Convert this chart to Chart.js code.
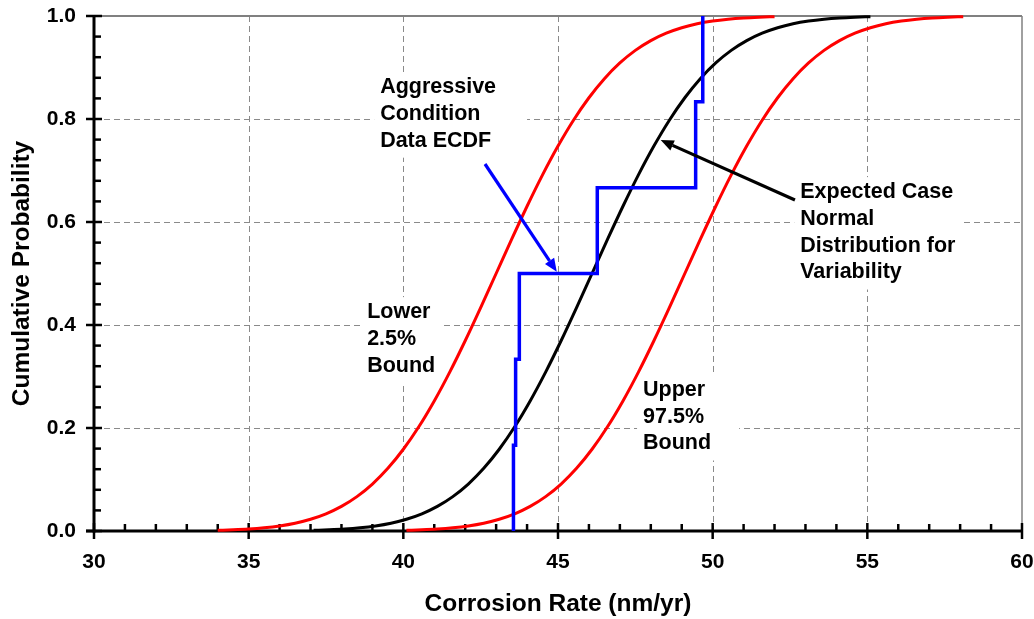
<!DOCTYPE html>
<html><head><meta charset="utf-8">
<script src="https://cdn.jsdelivr.net/npm/chart.js@4.4.0/dist/chart.umd.min.js"></script>
<style>html,body{margin:0;padding:0;background:#fff;}#wrap{width:1034px;height:619px;}</style>
</head><body><div id="wrap"><canvas id="c" width="1034" height="619"></canvas></div>
<script>
// ---- data ----
const xTickValues = [30, 35, 40, 45, 50, 55, 60];
const yTickValues = [0.0, 0.2, 0.4, 0.6, 0.8, 1.0];

const lowerX = [34,34.5,35,35.5,36,36.5,37,37.5,38,38.5,39,39.5,40,40.5,41,41.5,42,42.5,43,43.5,44,44.5,45,45.5,46,46.5,47,47.5,48,48.5,49,49.5,50,50.5,51,51.5,52];
const lowerY = [0.0013,0.0023,0.0038,0.0062,0.0098,0.0151,0.0228,0.0334,0.0478,0.0668,0.0912,0.1217,0.1587,0.2023,0.2525,0.3085,0.3694,0.4338,0.5,0.5662,0.6306,0.6915,0.7475,0.7977,0.8413,0.8783,0.9088,0.9332,0.9522,0.9666,0.9772,0.9849,0.9902,0.9938,0.9962,0.9977,0.9987];

const expectedX = [37.1,37.6,38.1,38.6,39.1,39.6,40.1,40.6,41.1,41.6,42.1,42.6,43.1,43.6,44.1,44.6,45.1,45.6,46.1,46.6,47.1,47.6,48.1,48.6,49.1,49.6,50.1,50.6,51.1,51.6,52.1,52.6,53.1,53.6,54.1,54.6,55.1];
const expectedY = [0.0013,0.0023,0.0038,0.0062,0.0098,0.0151,0.0228,0.0334,0.0478,0.0668,0.0912,0.1217,0.1587,0.2023,0.2525,0.3085,0.3694,0.4338,0.5,0.5662,0.6306,0.6915,0.7475,0.7977,0.8413,0.8783,0.9088,0.9332,0.9522,0.9666,0.9772,0.9849,0.9902,0.9938,0.9962,0.9977,0.9987];

const upperX = [40.1,40.6,41.1,41.6,42.1,42.6,43.1,43.6,44.1,44.6,45.1,45.6,46.1,46.6,47.1,47.6,48.1,48.6,49.1,49.6,50.1,50.6,51.1,51.6,52.1,52.6,53.1,53.6,54.1,54.6,55.1,55.6,56.1,56.6,57.1,57.6,58.1];
const upperY = [0.0013,0.0023,0.0038,0.0062,0.0098,0.0151,0.0228,0.0334,0.0478,0.0668,0.0912,0.1217,0.1587,0.2023,0.2525,0.3085,0.3694,0.4338,0.5,0.5662,0.6306,0.6915,0.7475,0.7977,0.8413,0.8783,0.9088,0.9332,0.9522,0.9666,0.9772,0.9849,0.9902,0.9938,0.9962,0.9977,0.9987];

const ecdfX = [43.56, 43.56, 43.63, 43.75, 46.27, 49.45, 49.68];
const ecdfY = [0, 0.1667, 0.3333, 0.5, 0.6667, 0.8333, 1.0];

// annotations (data coordinates)
const labels = [
  {lines:['Aggressive','Condition','Data ECDF'], x:39.25, y:0.862, extra:25},
  {lines:['Expected Case','Normal','Distribution for','Variability'], x:52.83, y:0.658, extra:0},
  {lines:['Lower','2.5%','Bound'], x:38.83, y:0.425, extra:0},
  {lines:['Upper','97.5%','Bound'], x:47.75, y:0.274, extra:22}
];
const arrows = [
  {x1:42.64, y1:0.7126, x2:44.96, y2:0.5035, color:'#0000ff'},
  {x1:52.66, y1:0.6427, x2:48.32, y2:0.759, color:'#000000'}
];

const FONT = "'Liberation Sans', Arial, Helvetica, sans-serif";
const pts = (xs, ys) => xs.map((x, i) => ({x: x, y: ys[i]}));

function seg(ctx, x1, y1, x2, y2) { ctx.beginPath(); ctx.moveTo(x1, y1); ctx.lineTo(x2, y2); ctx.stroke(); }

const decor = {
  id: 'decor',
  beforeDatasetsDraw(chart) {
    const {ctx, chartArea: a, scales: {x, y}} = chart;
    ctx.save();
    // dashed grid
    ctx.strokeStyle = '#8a8a8a'; ctx.lineWidth = 1; ctx.setLineDash([6, 4]);
    xTickValues.slice(1, -1).forEach(v => { const p = Math.round(x.getPixelForValue(v)) + 0.5; seg(ctx, p, a.top, p, a.bottom); });
    yTickValues.slice(1, -1).forEach(v => { const p = Math.round(y.getPixelForValue(v)) + 0.5; seg(ctx, a.left, p, a.right, p); });
    ctx.setLineDash([]);
    // top/right frame
    ctx.strokeStyle = '#808080'; ctx.lineWidth = 2;
    seg(ctx, a.left, a.top, a.right, a.top);
    ctx.lineWidth = 1.5;
    seg(ctx, a.right, a.top, a.right, a.bottom);
    // label boxes and text
    ctx.font = 'bold 21.5px ' + FONT;
    ctx.textBaseline = 'middle'; ctx.textAlign = 'left';
    const lh = 26.8;
    labels.forEach(L => {
      const tx = x.getPixelForValue(L.x), ty = y.getPixelForValue(L.y);
      const w = Math.max(...L.lines.map(s => ctx.measureText(s).width));
      ctx.fillStyle = '#fff';
      ctx.fillRect(tx - 6, ty - 15, w + 12 + L.extra, (L.lines.length - 1) * lh + 32);
      ctx.fillStyle = '#000';
      L.lines.forEach((s, i) => ctx.fillText(s, tx, ty + i * lh));
    });
    // axes
    ctx.strokeStyle = '#000'; ctx.lineWidth = 3;
    seg(ctx, a.left, a.top - 1, a.left, a.bottom + 1.5);
    seg(ctx, a.left - 8, a.bottom, a.right + 1, a.bottom);
    ctx.lineWidth = 2.5;
    // y ticks
    for (let k = 0; k <= 25; k++) {
      const v = k * 0.04, p = y.getPixelForValue(v);
      if (k % 5 === 0) seg(ctx, a.left - 8, p, a.left + 8, p); else seg(ctx, a.left, p, a.left + 7, p);
    }
    // x ticks
    for (let v = 30; v <= 60; v++) {
      const p = x.getPixelForValue(v);
      if (v % 5 === 0) seg(ctx, p, a.bottom - 8, p, a.bottom + 8); else seg(ctx, p, a.bottom, p, a.bottom - 7);
    }
    ctx.restore();
  },
  afterDatasetsDraw(chart) {
    const {ctx, scales: {x, y}} = chart;
    ctx.save();
    arrows.forEach(A => {
      const x1 = x.getPixelForValue(A.x1), y1 = y.getPixelForValue(A.y1);
      const x2 = x.getPixelForValue(A.x2), y2 = y.getPixelForValue(A.y2);
      const ang = Math.atan2(y2 - y1, x2 - x1), L = 13, W = 5.5;
      const bx = x2 - L * Math.cos(ang), by = y2 - L * Math.sin(ang);
      ctx.strokeStyle = A.color; ctx.fillStyle = A.color; ctx.lineWidth = 3.2;
      seg(ctx, x1, y1, bx, by);
      ctx.beginPath();
      ctx.moveTo(x2, y2);
      ctx.lineTo(bx + W * Math.sin(ang), by - W * Math.cos(ang));
      ctx.lineTo(bx - W * Math.sin(ang), by + W * Math.cos(ang));
      ctx.closePath(); ctx.fill();
    });
    ctx.restore();
  }
};

new Chart(document.getElementById('c'), {
  type: 'line',
  data: {
    datasets: [
      {label: 'Aggressive Condition Data ECDF', data: pts(ecdfX, ecdfY), borderColor: '#0000ff', borderWidth: 3.5, stepped: true, pointRadius: 0, clip: false},
      {label: 'Expected Case', data: pts(expectedX, expectedY), borderColor: '#000000', borderWidth: 3, cubicInterpolationMode: 'monotone', pointRadius: 0, clip: false},
      {label: 'Lower 2.5% Bound', data: pts(lowerX, lowerY), borderColor: '#ff0000', borderWidth: 3, cubicInterpolationMode: 'monotone', pointRadius: 0, clip: false},
      {label: 'Upper 97.5% Bound', data: pts(upperX, upperY), borderColor: '#ff0000', borderWidth: 3, cubicInterpolationMode: 'monotone', pointRadius: 0, clip: false}
    ]
  },
  options: {
    responsive: false, animation: false, devicePixelRatio: 1,
    layout: {padding: {top: 16, right: 12, left: 0, bottom: 0}},
    plugins: {legend: {display: false}, tooltip: {enabled: false}},
    scales: {
      x: {
        type: 'linear', min: 30, max: 60,
        afterFit: s => { s.height = 88; s.paddingLeft = 0; s.paddingRight = 0; s.paddingTop = 0; s.paddingBottom = 0; },
        afterBuildTicks: s => { s.ticks = xTickValues.map(v => ({value: v})); },
        grid: {display: false, drawTicks: false}, border: {display: false},
        ticks: {padding: 19, color: '#000', font: {family: FONT, size: 21, weight: 'bold'}, maxRotation: 0, autoSkip: false},
        title: {display: true, text: 'Corrosion Rate (nm/yr)', color: '#000', padding: {top: 0, bottom: 0}, font: {family: FONT, size: 24.5, weight: 'bold'}}
      },
      y: {
        type: 'linear', min: 0, max: 1,
        afterFit: s => { s.width = 94; s.paddingLeft = 0; s.paddingRight = 0; s.paddingTop = 0; s.paddingBottom = 0; },
        afterBuildTicks: s => { s.ticks = yTickValues.map(v => ({value: v})); },
        grid: {display: false, drawTicks: false}, border: {display: false},
        ticks: {padding: 18, color: '#000', font: {family: FONT, size: 21, weight: 'bold'}, autoSkip: false, callback: v => Number(v).toFixed(1)},
        title: {display: true, text: 'Cumulative Probability', color: '#000', padding: {top: 8, bottom: 0}, font: {family: FONT, size: 24.5, weight: 'bold'}}
      }
    }
  },
  plugins: [decor]
});
</script>
</body></html>
